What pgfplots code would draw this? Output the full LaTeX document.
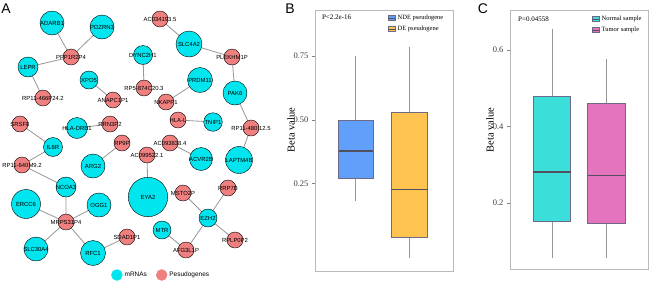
\documentclass[border=0pt]{standalone}
\usepackage{fontspec}
\setmainfont{Liberation Serif}
\newfontfamily\arial{Liberation Sans}
\usepackage{pgfplots}
\usepackage{pgfplotstable}
\usepgfplotslibrary{statistics}
\pgfplotsset{compat=1.18}

\definecolor{ncyan}{RGB}{0,229,238}
\definecolor{npink}{RGB}{240,128,128}
\definecolor{edgegray}{RGB}{150,150,150}
\definecolor{bblue}{RGB}{97,160,250}
\definecolor{borange}{RGB}{255,195,80}
\definecolor{cturq}{RGB}{60,222,218}
\definecolor{cpink}{RGB}{228,116,190}
\definecolor{boxedge}{RGB}{110,105,135}
\definecolor{whisk}{RGB}{150,150,150}
\definecolor{medcol}{RGB}{80,80,95}
\definecolor{framecol}{RGB}{185,185,185}
\definecolor{tickcol}{RGB}{60,60,60}

\pgfplotstableread{
x y r label
52 23 12 ADARB1
102 27 12 PDZRN3
28 67 10 LEPR
89 80 9 XPO5
143 55 9.5 DYNC2H1
189 44 13 SLC4A2
200 80 12.5 PRDM11
235 93 12 PAK6
213 122 9.3 TNIP1
77 128 10.5 HLA-DRB1
53 147 9.5 IL6R
93 166 12 ARG2
201 159 11.5 ACVR2B
239 160 13.5 LAPTM4B
66 187 10 NCOA3
148 197 19.7 EYA2
26 204 14.5 ERCC6
99 205 12 OGG1
208 218 9 EZH2
162 230 9 MTR
36 249 12 SLC30A4
93 253 12.5 RFC1
}\cyantab

\pgfplotstableread{
x y r label
71 57 8 PPP1R2P4
43 98 8 RP11-466P24.2
113 100 8 ANAPC1P1
144 88 8 RP5-874C20.3
160 19 8 AC034193.5
232 57 8 PLEKHM1P
166 102 8 NKAPP1
178 120 8 HLA-L
251 128 8 RP11-480I12.5
20 124 8 SRSF8
110 124 8 RRN3P2
122 143 8 RP9P
170 143 8 AC093838.4
22 165 8 RP11-640M9.2
147 155 8 AC099522.1
183 193 8 MSTO2P
228 188 8 RRP7B
66 222 8 MRPS31P4
127 237 8 SDAD1P1
235 240 8 RPLP0P2
186 250 8 AFG3L1P
}\pinktab

\pgfplotsset{
  netnodes/.style={scatter, only marks, mark=*, point meta=\thisrow{r},
    scatter/use mapped color={draw=none, fill=#1},
    visualization depends on={\thisrow{r}\as\rad},
    scatter/@pre marker code/.append style={/tikz/mark size=\rad}},
  netlabels/.style={draw=none, mark=none,
    point meta=explicit symbolic,
    nodes near coords,
    every node near coord/.append style={anchor=center, inner sep=0pt,
      font=\arial\fontsize{5.9}{6.5}\selectfont, text=black}},
  boxax/.style={scale only axis,
    axis line style={framecol, line width=0.8pt},
    tick pos=left, tick align=outside, major tick length=3pt,
    major tick style={draw=gray, line width=0.6pt},
    xtick=\empty,
    yticklabel style={font=\fontsize{8.5}{9.5}\selectfont, text=tickcol},
    /pgf/number format/assume math mode=true,
    boxplot/draw direction=y,
    boxplot/whisker extend=0,
    boxplot/every whisker/.style={draw=whisk, line width=0.8pt},
    boxplot/every median/.style={draw=medcol, line width=1.2pt},
    boxplot/every box/.style={draw=boxedge, line width=0.8pt},
    legend style={draw=none, fill=none, anchor=north west,
      font=\fontsize{6.5}{7.5}\selectfont, row sep=1pt, inner sep=0pt},
    legend cell align=left},
}

\begin{document}
\begin{tikzpicture}
\path[use as bounding box] (0pt,0pt) rectangle (650pt,282pt);

% ---------------- Panel A: network ----------------
\begin{axis}[at={(0pt,0pt)}, anchor=south west, scale only axis,
  width=285pt, height=282pt,
  xmin=0, xmax=285, ymin=0, ymax=282, y dir=reverse,
  hide axis, clip=false,
  legend columns=2,
  legend style={at={(axis cs:111,275)}, anchor=west, draw=none, fill=none,
    inner sep=0pt, font=\arial\fontsize{6.5}{7.5}\selectfont,
    /tikz/every even column/.append style={column sep=7pt}}]
\addplot[edgegray, line width=0.8pt, unbounded coords=jump, forget plot] coordinates {
(52,23) (71,57) (nan,nan)
(102,27) (71,57) (nan,nan)
(28,67) (71,57) (nan,nan)
(28,67) (43,98) (nan,nan)
(143,55) (144,88) (nan,nan)
(89,80) (113,100) (nan,nan)
(160,19) (189,44) (nan,nan)
(189,44) (232,57) (nan,nan)
(232,57) (235,93) (nan,nan)
(200,80) (166,102) (nan,nan)
(235,93) (251,128) (nan,nan)
(178,120) (213,122) (nan,nan)
(251,128) (239,160) (nan,nan)
(20,124) (53,147) (nan,nan)
(77,128) (110,124) (nan,nan)
(53,147) (22,165) (nan,nan)
(22,165) (66,187) (nan,nan)
(122,143) (93,166) (nan,nan)
(170,143) (201,159) (nan,nan)
(147,155) (148,197) (nan,nan)
(66,187) (66,222) (nan,nan)
(26,204) (66,222) (nan,nan)
(99,205) (66,222) (nan,nan)
(36,249) (66,222) (nan,nan)
(93,253) (66,222) (nan,nan)
(93,253) (127,237) (nan,nan)
(183,193) (208,218) (nan,nan)
(228,188) (208,218) (nan,nan)
(208,218) (235,240) (nan,nan)
(208,218) (186,250) (nan,nan)
(162,230) (186,250)
};
\addplot[netnodes=ncyan, forget plot] table[x=x,y=y] {\cyantab};
\addplot[netnodes=npink, forget plot] table[x=x,y=y] {\pinktab};
\addplot[netlabels, forget plot] table[x=x,y=y,meta=label] {\cyantab};
\addplot[netlabels, forget plot] table[x=x,y=y,meta=label] {\pinktab};
\addlegendimage{legend image code/.code={\fill[ncyan] (5.5pt,0pt) circle (5.5pt);}}
\addlegendentry{mRNAs}
\addlegendimage{legend image code/.code={\fill[npink] (5.5pt,0pt) circle (5.5pt);}}
\addlegendentry{Pesudogenes}
\end{axis}

% ---------------- Panel B ----------------
\begin{axis}[boxax, at={(315pt,11pt)}, anchor=south west,
  width=138pt, height=261pt,
  xmin=0, xmax=138, ymin=-0.092, ymax=0.931,
  ytick={0.25,0.5,0.75},
  yticklabel style={/pgf/number format/.cd, fixed, fixed zerofill, precision=2},
  ylabel={Beta value},
  every axis y label/.style={at={(axis description cs:-0.174,0.54)}, rotate=90,
    anchor=center, font=\fontsize{10.5}{12}\selectfont},
  legend style={at={(rel axis cs:0.529,0.989)}}]
\addplot[boxplot prepared={draw position=40.8, box extend=34.5,
  lower whisker=0.182, lower quartile=0.270, median=0.378,
  upper quartile=0.497, upper whisker=0.751},
  fill=bblue, draw=boxedge, forget plot] coordinates {};
\addplot[boxplot prepared={draw position=94.3, box extend=36.5,
  lower whisker=-0.042, lower quartile=0.038, median=0.227,
  upper quartile=0.529, upper whisker=0.785},
  fill=borange, draw=boxedge, forget plot] coordinates {};
\addlegendimage{legend image code/.code={\filldraw[fill=bblue,draw=boxedge,line width=0.5pt] (0pt,-2.5pt) rectangle (7pt,2.5pt); \draw[medcol,line width=0.5pt] (0pt,0pt)--(7pt,0pt);}}
\addlegendentry{NDE pseudogene}
\addlegendimage{legend image code/.code={\filldraw[fill=borange,draw=boxedge,line width=0.5pt] (0pt,-2.5pt) rectangle (7pt,2.5pt); \draw[medcol,line width=0.5pt] (0pt,0pt)--(7pt,0pt);}}
\addlegendentry{DE pseudogene}
\node[anchor=west, font=\fontsize{7}{8}\selectfont, inner sep=0pt] at (rel axis cs:0.05,0.973) {P<2.2e-16};
\end{axis}

% ---------------- Panel C ----------------
\begin{axis}[boxax, at={(510pt,13pt)}, anchor=south west,
  width=138pt, height=259pt,
  xmin=0, xmax=138, ymin=0.0275, ymax=0.7046,
  ytick={0.2,0.4,0.6},
  yticklabel style={/pgf/number format/.cd, fixed, fixed zerofill, precision=1},
  ylabel={Beta value},
  every axis y label/.style={at={(axis description cs:-0.145,0.537)}, rotate=90,
    anchor=center, font=\fontsize{10.5}{12}\selectfont},
  legend style={at={(rel axis cs:0.594,0.985)}}]
\addplot[boxplot prepared={draw position=42, box extend=37.4,
  lower whisker=0.055, lower quartile=0.152, median=0.281,
  upper quartile=0.478, upper whisker=0.654},
  fill=cturq, draw=boxedge, forget plot] coordinates {};
\addplot[boxplot prepared={draw position=96.3, box extend=37.3,
  lower whisker=0.055, lower quartile=0.146, median=0.271,
  upper quartile=0.461, upper whisker=0.576},
  fill=cpink, draw=boxedge, forget plot] coordinates {};
\addlegendimage{legend image code/.code={\filldraw[fill=cturq,draw=boxedge,line width=0.5pt] (0pt,-2.5pt) rectangle (7pt,2.5pt); \draw[medcol,line width=0.5pt] (0pt,0pt)--(7pt,0pt);}}
\addlegendentry{Normal sample}
\addlegendimage{legend image code/.code={\filldraw[fill=cpink,draw=boxedge,line width=0.5pt] (0pt,-2.5pt) rectangle (7pt,2.5pt); \draw[medcol,line width=0.5pt] (0pt,0pt)--(7pt,0pt);}}
\addlegendentry{Tumor sample}
\node[anchor=west, font=\fontsize{7}{8}\selectfont, inner sep=0pt] at (rel axis cs:0.058,0.965) {P=0.04558};
\end{axis}

% panel letters
\node[font=\arial\fontsize{14}{16}\selectfont] at (6pt,273pt) {A};
\node[font=\arial\fontsize{14}{16}\selectfont] at (290pt,273pt) {B};
\node[font=\arial\fontsize{14}{16}\selectfont] at (483pt,273pt) {C};
\end{tikzpicture}
\end{document}
